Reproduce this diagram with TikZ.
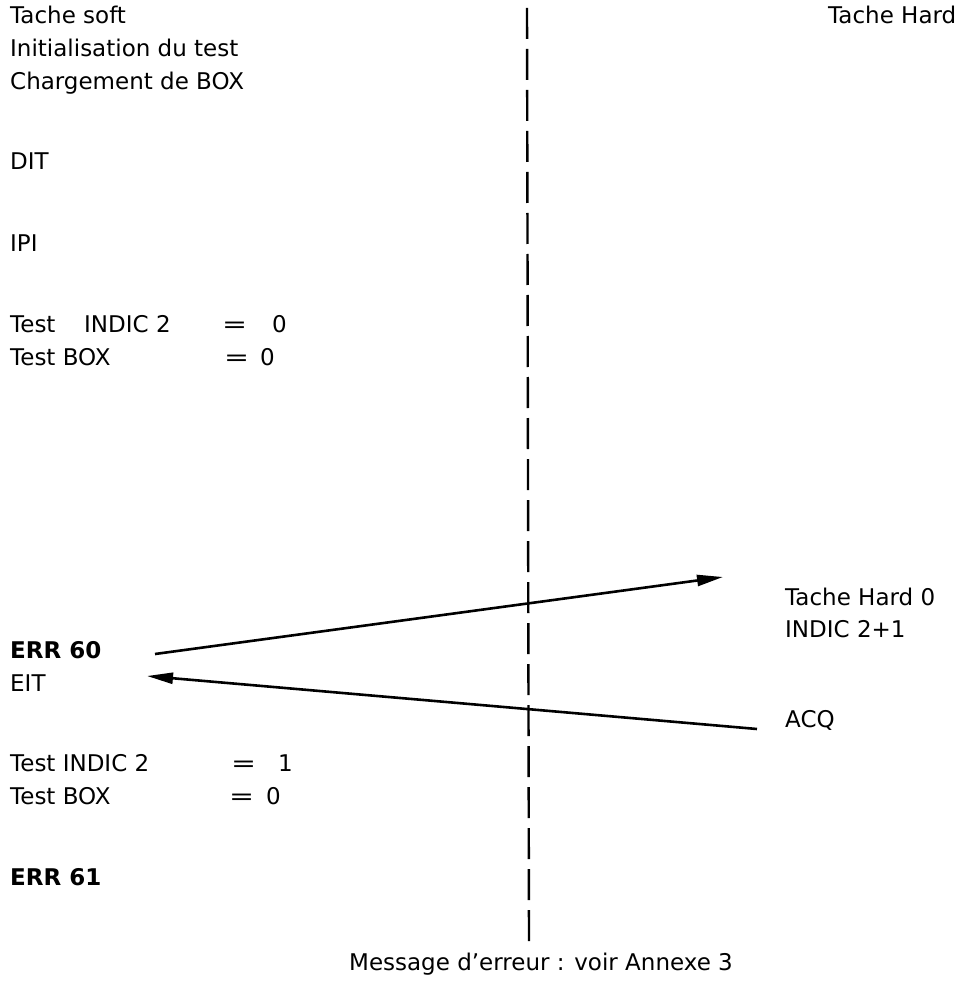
\documentclass[tikz,border=0pt]{standalone}
\usepackage{fontspec}
\setmainfont{DejaVu Sans}
\usetikzlibrary{arrows.meta}
\tikzset{
  txt/.style={anchor=base west, inner sep=0pt, font=\fontsize{23}{27}\selectfont},
  bold/.style={txt, font=\fontsize{23}{27}\selectfont\bfseries},
  sep/.style={line width=2.4pt, dash pattern=on 31pt off 10pt},
  msg/.style={line width=2.6pt, -{Triangle[length=26pt,width=11pt]}}
}
\newcommand{\eqsign}{\scalebox{1.3}[1]{=}}
\begin{document}
\begin{tikzpicture}[x=1pt,y=-1pt]
\useasboundingbox (0,0) rectangle (962,981);
% left column
\node[txt] (ts) at (10,24) {Tache soft};
\node[txt] (init) at (10,57) {Initialisation du test};
\node[txt] (charg) at (10,90) {Chargement de BOX};
\node[txt] (dit) at (10,170) {DIT};
\node[txt] (ipi) at (10,252) {IPI};
\node[txt] (t1) at (10,332) {\makebox[74pt][l]{Test}\makebox[138pt][l]{INDIC 2}\makebox[50pt][l]{\eqsign}0};
\node[txt] (b1) at (10,365) {\makebox[214pt][l]{Test BOX}\makebox[36pt][l]{\eqsign}0};
\node[bold] (e60) at (10,658) {ERR 60};
\node[txt] (eit) at (10,691) {EIT};
\node[txt] (t2) at (10,771) {\makebox[221pt][l]{Test INDIC 2}\makebox[47pt][l]{\eqsign}1};
\node[txt] (b2) at (10,804) {\makebox[219pt][l]{Test BOX}\makebox[37pt][l]{\eqsign}0};
\node[bold] (e61) at (10,885) {ERR 61};
% right column
\node[txt] (th) at (828,24) {Tache Hard};
\node[txt] (th0) at (785,605) {Tache Hard 0};
\node[txt] (ind) at (785,637) {INDIC 2+1};
\node[txt] (acq) at (785,727) {ACQ};
% bottom
\node[txt, anchor=base] (msg) at (541,970) {Message d’erreur : voir Annexe 3};
% separator
\coordinate (stop) at (527,8);
\coordinate (sbot) at (529,945);
\draw[sep] (stop) -- (sbot);
% messages
\coordinate (a1s) at (155,654);
\coordinate (a1e) at (723,577);
\coordinate (a2s) at (757,729);
\coordinate (a2e) at (147,676);
\draw[msg] (a1s) -- (a1e);
\draw[msg] (a2s) -- (a2e);
\end{tikzpicture}
\end{document}
